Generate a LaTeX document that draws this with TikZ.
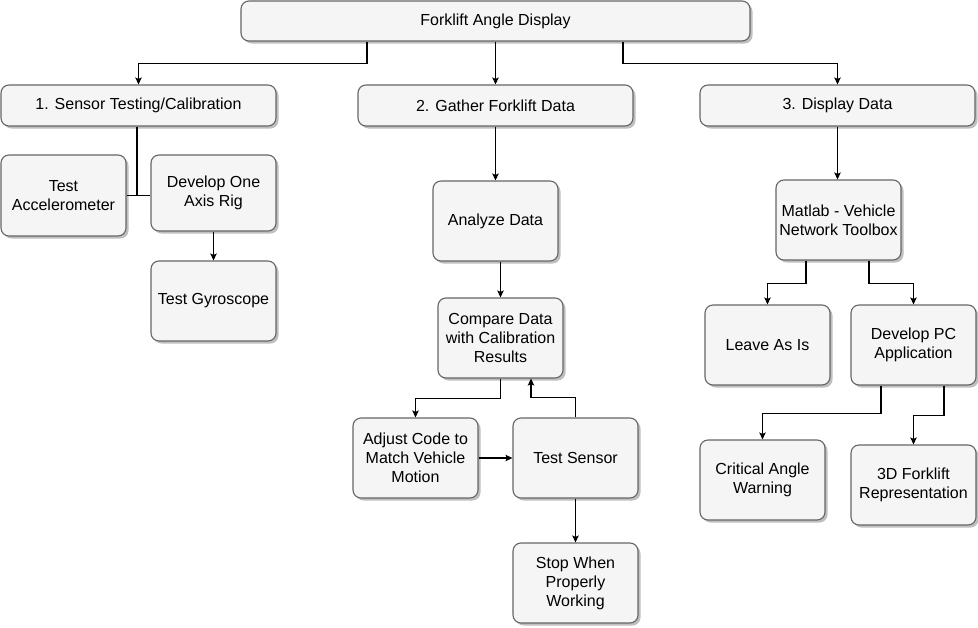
\documentclass[tikz,border=0pt]{standalone}
\usepackage{fontspec}
\setmainfont{Liberation Sans}
\usetikzlibrary{arrows.meta,shadows,calc}
\begin{document}
\begin{tikzpicture}[x=1pt,y=-1pt,
  box/.style={draw=black!60, fill=black!4, line width=1.1pt, rounded corners=8pt,
    align=center, inner sep=2pt, font=\fontsize{16}{19}\selectfont,
    drop shadow={shadow xshift=2.5pt, shadow yshift=-2.5pt, fill=black, opacity=0.25}},
  arr/.style={draw=black, line width=1.1pt, -{Stealth[length=7pt,width=6.5pt,inset=1.5pt]}},
  ln/.style={draw=black, line width=1.1pt}]
\useasboundingbox (0,0) rectangle (978,627);

\node[box, minimum width=509pt, minimum height=40pt] (top) at (495.5,21) {Forklift Angle Display};
\node[box, minimum width=275pt, minimum height=41pt] (sensor) at (138.5,105.5) {1. Sensor Testing/Calibration};
\node[box, minimum width=275pt, minimum height=41pt] (gather) at (495.5,105.5) {2. Gather Forklift Data};
\node[box, minimum width=275pt, minimum height=41pt] (display) at (837.5,105.5) {3. Display Data};

\node[box, minimum width=125pt, minimum height=81pt] (accel) at (63.5,195.5) {Test\\Accelerometer};
\node[box, minimum width=125pt, minimum height=76pt] (develop) at (213.5,193) {Develop One\\Axis Rig};
\node[box, minimum width=125pt, minimum height=80pt] (gyro) at (213.5,301) {Test Gyroscope};

\node[box, minimum width=125pt, minimum height=80pt] (analyze) at (495.5,221) {Analyze Data};
\node[box, minimum width=125pt, minimum height=80pt] (compare) at (500.5,338) {Compare Data\\with Calibration\\Results};
\node[box, minimum width=125pt, minimum height=80pt] (adjust) at (415.5,458) {Adjust Code to\\Match Vehicle\\Motion};
\node[box, minimum width=125pt, minimum height=80pt] (tsensor) at (575.5,458) {Test Sensor};
\node[box, minimum width=125pt, minimum height=80pt] (stop) at (575.5,583) {Stop When\\Properly\\Working};

\node[box, minimum width=125pt, minimum height=80pt] (matlab) at (838.5,220) {Matlab - Vehicle\\Network Toolbox};
\node[box, minimum width=125pt, minimum height=80pt] (leave) at (767.5,345) {Leave As Is};
\node[box, minimum width=125pt, minimum height=80pt] (devpc) at (913.5,345) {Develop PC\\Application};
\node[box, minimum width=125pt, minimum height=80pt] (critical) at (762.5,480) {Critical Angle\\Warning};
\node[box, minimum width=125pt, minimum height=80pt] (fork3d) at (913.5,485) {3D Forklift\\Representation};

% top level
\draw[arr] ([xshift=-128.5pt]top.south) -- ++(0,22) -| (sensor.north);
\draw[arr] (top.south) -- (gather.north);
\draw[arr] ([xshift=127.5pt]top.south) -- ++(0,22) -| (display.north);

% sensor branch
\draw[ln] ([xshift=-1.5pt]sensor.south) -- ([xshift=-1.5pt]sensor.south |- accel.east);
\draw[ln] (accel.east) -- (develop.west |- accel.east);
\draw[arr] (develop.south) -- (gyro.north);

% gather branch
\draw[arr] (gather.south) -- (analyze.north);
\draw[arr] (analyze.south -| compare.north) -- (compare.north);
\draw[arr] (compare.south) -- ++(0,20) -| (adjust.north);
\draw[arr] (adjust.east) -- (tsensor.west);
\draw[arr] (tsensor.north) -- ++(0,-20) -| ([xshift=30.5pt]compare.south);
\draw[arr] (tsensor.south) -- (stop.north);

% display branch
\draw[arr] (display.south) -- (display.south |- matlab.north);
\draw[arr] ([xshift=-32.5pt]matlab.south) -- ++(0,23) -| (leave.north);
\draw[arr] ([xshift=30.5pt]matlab.south) -- ++(0,23) -| (devpc.north);
\draw[arr] ([xshift=-32.5pt]devpc.south) -- ++(0,28) -| (critical.north);
\draw[arr] ([xshift=30.5pt]devpc.south) -- ++(0,30) -| (fork3d.north);
\end{tikzpicture}
\end{document}
